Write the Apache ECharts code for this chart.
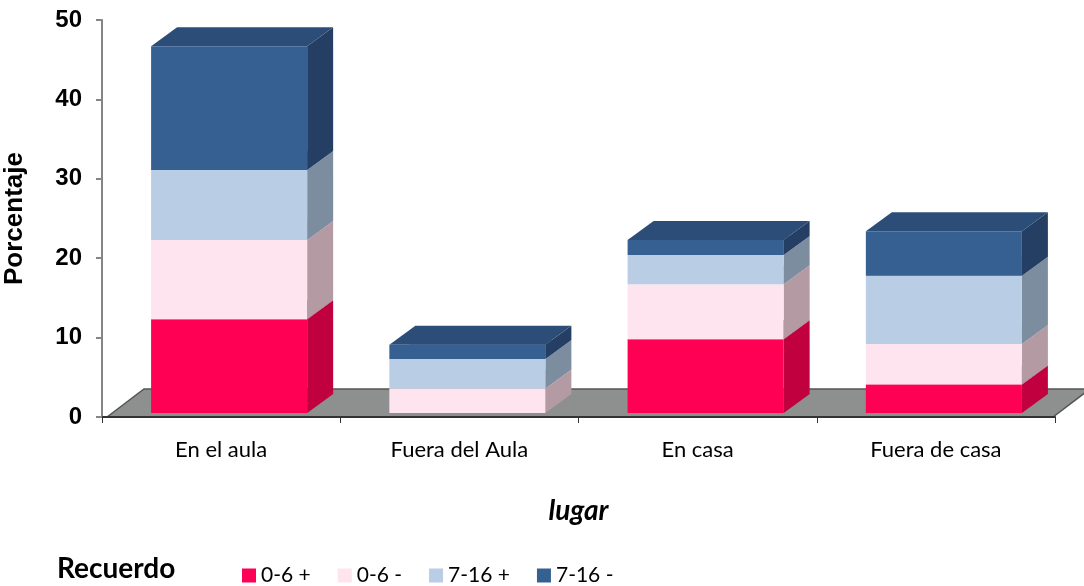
<!DOCTYPE html>
<html>
<head>
<meta charset="utf-8">
<title>Recuerdo por lugar</title>
<script src="https://cdn.jsdelivr.net/npm/echarts@6.0.0/dist/echarts.min.js"></script>
<style>
  html, body { margin: 0; padding: 0; background: #fff; }
  #chart { width: 1084px; height: 586px; }
</style>
</head>
<body>
<div id="chart"></div>
<script>
// datos (porcentaje)
const categories = ['En el aula', 'Fuera del Aula', 'En casa', 'Fuera de casa']
const names = ['0-6 +', '0-6 -', '7-16 +', '7-16 -']
const s06mas = [11.8, 0, 9.3, 3.6]
const s06menos = [10.0, 3.1, 6.9, 5.1]
const s716mas = [8.8, 3.7, 3.7, 8.6]
const s716menos = [15.6, 1.8, 1.9, 5.6]
const yTicks = [0, 10, 20, 30, 40, 50]

const valores = [s06mas, s06menos, s716mas, s716menos]

// colores: frente, lado, tapa
const colores = [
  { front: '#ff0055', side: '#c0003f', top: '#d6004a' },
  { front: '#fde4ee', side: '#b39aa3', top: '#d9c3cc' },
  { front: '#b9cde5', side: '#7c8da0', top: '#9aaec6' },
  { front: '#376092', side: '#243f63', top: '#2c4d78' }
]

// profundidad 3D de las barras y del suelo
const DX = 26, DY = -19
const SHIFT_X = 8, SHIFT_Y = -4
const FLOOR_DX = 37, FLOOR_DY = -28

// acumulados para apilar
const acum = categories.map(() => 0)
const stacked = valores.map(serie => serie.map((v, i) => {
  const ini = acum[i]
  acum[i] += v
  return [i, ini, acum[i]]
}))

function renderBarra (idx) {
  return function (params, api) {
    const ini = api.value(1)
    const fin = api.value(2)
    if (fin - ini <= 0) return null
    const p0 = api.coord([api.value(0), ini])
    const p1 = api.coord([api.value(0), fin])
    const band = api.size([1, 0])[0]
    const w = band * 0.655
    const left = p0[0] - w / 2 + SHIFT_X
    const right = left + w
    const bottom = p0[1] + SHIFT_Y
    const top = p1[1] + SHIFT_Y
    const c = colores[idx]
    return {
      type: 'group',
      children: [
        {
          type: 'polygon',
          shape: { points: [[right, bottom], [right, top], [right + DX, top + DY], [right + DX, bottom + DY]] },
          style: { fill: c.side }
        },
        {
          type: 'polygon',
          shape: { points: [[left, top], [left + DX, top + DY], [right + DX, top + DY], [right, top]] },
          style: { fill: c.top }
        },
        {
          type: 'polygon',
          shape: { points: [[left, top], [right, top], [right, bottom], [left, bottom]] },
          style: { fill: c.front }
        }
      ]
    }
  }
}

function renderSuelo (params, api) {
  const cs = params.coordSys
  const x0 = cs.x + 5
  const x1 = cs.x + cs.width - 2
  const y0 = cs.y + cs.height
  return {
    type: 'polygon',
    shape: { points: [[x0, y0], [x0 + FLOOR_DX, y0 + FLOOR_DY], [x1 + FLOOR_DX, y0 + FLOOR_DY], [x1, y0]] },
    style: { fill: '#8e8f8f', stroke: '#555', lineWidth: 1.5 }
  }
}

const series = [{
  name: 'suelo',
  type: 'custom',
  renderItem: renderSuelo,
  data: [[0, 0]],
  silent: true,
  z: 1
}]

names.forEach((n, k) => {
  series.push({
    name: n,
    type: 'custom',
    renderItem: renderBarra(k),
    itemStyle: { color: colores[k].front },
    encode: { x: 0, y: 2 },
    data: stacked[k],
    z: 2 + k
  })
})

const chart = echarts.init(document.getElementById('chart'))
chart.setOption({
  animation: false,
  grid: { left: 102, right: 29, top: 20, bottom: 169, outerBoundsMode: 'none', containLabel: false },
  legend: {
    data: names,
    left: 242,
    top: 565,
    padding: 0,
    icon: 'rect',
    itemWidth: 14,
    itemHeight: 14,
    itemGap: 27,
    textStyle: { fontFamily: 'Lato', fontSize: 21, color: '#000' }
  },
  graphic: [{
    type: 'text',
    left: 57,
    top: 555,
    style: { text: 'Recuerdo', fontFamily: 'Lato', fontWeight: 'bold', fontSize: 28, fill: '#000' }
  }],
  xAxis: {
    type: 'category',
    data: categories,
    z: 10,
    name: 'lugar',
    nameLocation: 'middle',
    nameGap: 80,
    nameTextStyle: { fontFamily: 'Lato', fontStyle: 'italic', fontWeight: 'bold', fontSize: 28, color: '#000' },
    axisLine: { lineStyle: { color: '#333', width: 2 } },
    axisTick: { show: true, length: 6, lineStyle: { color: '#333' } },
    axisLabel: { fontFamily: 'Lato', fontSize: 22, color: '#000', margin: 22 }
  },
  yAxis: {
    type: 'value',
    min: yTicks[0],
    max: yTicks[yTicks.length - 1],
    interval: 10,
    z: 10,
    name: 'Porcentaje',
    nameLocation: 'middle',
    nameRotate: 90,
    nameGap: 74,
    nameTextStyle: { fontFamily: 'Liberation Sans', fontWeight: 'bold', fontSize: 26, color: '#000' },
    axisLine: { show: true, lineStyle: { color: '#858585', width: 2 } },
    axisTick: { show: true, length: 6, lineStyle: { color: '#858585', width: 2 } },
    splitLine: { show: false },
    axisLabel: { fontFamily: 'Liberation Sans', fontWeight: 'bold', fontSize: 24, color: '#000', margin: 20 }
  },
  series: series
})
</script>
</body>
</html>
